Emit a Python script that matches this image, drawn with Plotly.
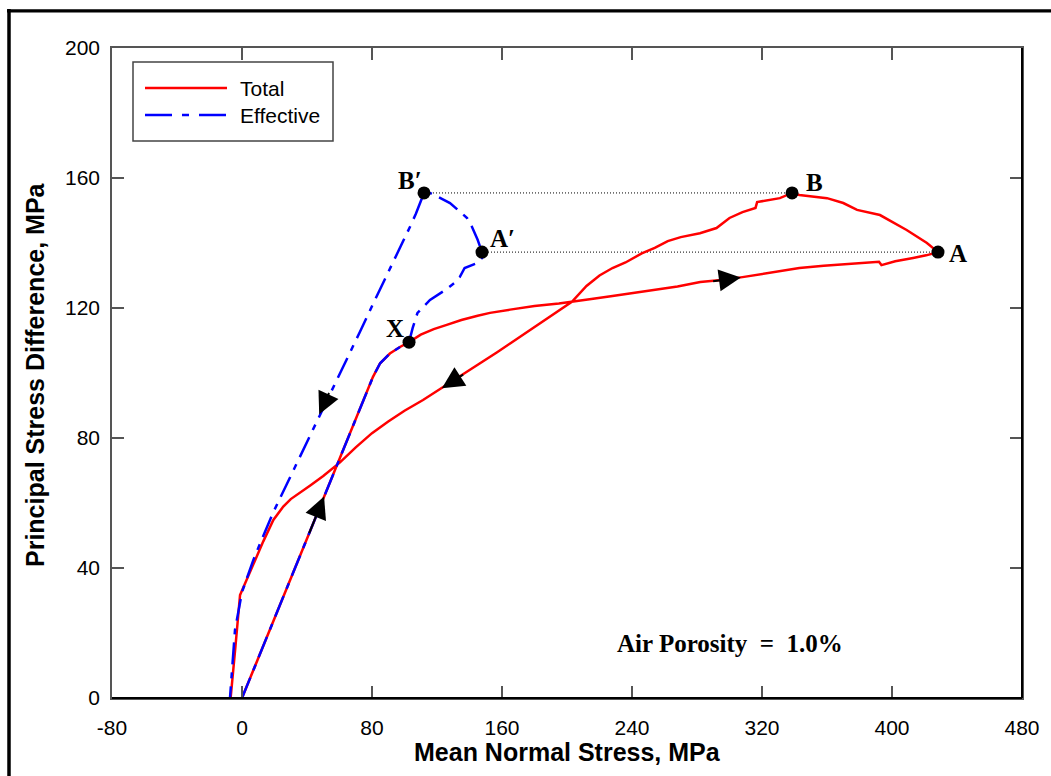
import plotly.graph_objects as go

# Total stress path: mean normal stress p (MPa) vs principal stress difference q (MPa)
total_p = [0.0, 80.6, 85.0, 91.0, 97.2, 102.8,
           110.0, 118.0, 126.0, 135.0, 145.0, 152.6, 165.0, 180.0, 195.0, 203.0,
           215.0, 228.0, 240.0, 255.0, 268.0, 282.0, 295.0, 308.0, 325.0, 343.0,
           358.0, 374.0, 392.0, 393.5, 402.0, 413.0, 421.0, 428.3,
           421.5, 409.0, 392.6, 378.5, 370.0, 360.0, 350.0, 343.0, 338.5,
           331.0, 317.0, 316.0, 308.0, 300.0, 292.0, 281.8, 270.0, 262.0, 254.0,
           246.0, 236.0, 228.0, 220.0, 212.0, 203.0, 190.0, 177.0, 165.0, 157.0,
           145.0, 134.0, 123.0, 111.4, 100.0, 90.0, 80.0, 70.0, 60.3, 50.0,
           42.0, 35.7, 30.0, 25.4, 19.3, 13.1, 9.0, 4.0, -1.2, -4.0, -7.0]
total_q = [0.0, 98.8, 103.0, 106.0, 108.0, 109.5,
           111.8, 113.5, 114.8, 116.3, 117.6, 118.5, 119.5, 120.6, 121.4, 121.9,
           122.8, 123.7, 124.6, 125.6, 126.6, 128.0, 128.6, 129.5, 130.8, 132.3,
           133.0, 133.5, 134.2, 133.2, 134.4, 135.4, 136.2, 137.2,
           140.0, 144.0, 148.6, 150.2, 152.3, 153.8, 154.5, 154.8, 155.4,
           153.8, 152.6, 150.8, 149.5, 147.7, 144.6, 143.0, 141.8, 140.6, 138.5,
           136.8, 134.0, 132.3, 130.0, 126.8, 121.9, 117.6, 113.2, 109.1, 106.4,
           102.5, 98.8, 95.3, 91.7, 88.4, 85.1, 81.5, 77.1, 72.5, 68.3,
           65.4, 63.3, 61.2, 58.9, 54.8, 48.2, 43.5, 37.8, 31.7, 16.0, 0.0]

# Effective stress path
eff_p = [0.0, 80.6, 85.0, 91.0, 97.2, 102.8,
         105.0, 108.0, 115.7, 125.0, 131.0, 134.0, 137.0, 144.6, 148.3, 147.7,
         145.0, 141.5, 138.5, 133.0, 128.0, 120.6, 115.7, 112.0,
         110.8, 107.0, 103.4, 96.0, 90.0, 80.6, 72.6, 60.3, 50.0, 41.8, 29.5, 19.0,
         12.0, 7.0, 0.0, -4.3, -7.4]
eff_q = [0.0, 98.8, 103.0, 106.0, 108.0, 109.5,
         113.8, 118.5, 122.5, 125.5, 127.8, 129.5, 132.3, 133.8, 135.7, 137.2,
         141.0, 145.0, 147.7, 150.2, 152.3, 154.2, 155.4, 155.4,
         153.8, 149.0, 145.0, 137.4, 131.0, 121.2, 112.7, 99.9, 89.1, 80.3, 68.0, 56.9,
         48.6, 42.5, 32.6, 21.0, 0.0]

# Labelled states on the paths
point_names = ["A", "B", "A′", "B′", "X"]
point_p = [428.3, 338.5, 147.7, 112.0, 102.8]
point_q = [137.2, 155.4, 137.2, 155.4, 109.5]

# Direction arrows along the paths: (tail p, tail q, tip p, tip q)
arrow_tail_p = [41.0, 54.0, 289.0, 137.0]
arrow_tail_q = [50.3, 94.3, 128.2, 99.8]
arrow_tip_p = [50.5, 47.5, 307.0, 123.0]
arrow_tip_q = [62.0, 87.3, 129.4, 95.3]

x_ticks = [-80, 0, 80, 160, 240, 320, 400, 480]
y_ticks = [0, 40, 80, 120, 160, 200]

legend_names = ["Total", "Effective"]
annotation_text = "Air Porosity\u00a0 =\u00a0 1.0%"

RED = "#ff0000"
BLUE = "#0000ff"
EFF_DASH = "22px,8px,6px,8px"
SANS = "Liberation Sans, Arial, sans-serif"
SERIF = "Liberation Serif, Times New Roman, serif"

fig = go.Figure()

# Horizontal dotted guides joining B'-B and A'-A
idx = {n: i for i, n in enumerate(point_names)}
for a, b in (("B′", "B"), ("A′", "A")):
    fig.add_trace(go.Scatter(
        x=[point_p[idx[a]], point_p[idx[b]]],
        y=[point_q[idx[a]], point_q[idx[b]]],
        mode="lines", line=dict(color="black", width=1, dash="1px,2px"),
        showlegend=False, hoverinfo="skip"))

fig.add_trace(go.Scatter(x=total_p, y=total_q, mode="lines", name=legend_names[0],
                         line=dict(color=RED, width=2.5), showlegend=False))
fig.add_trace(go.Scatter(x=eff_p, y=eff_q, mode="lines", name=legend_names[1],
                         line=dict(color=BLUE, width=2.5, dash=EFF_DASH),
                         showlegend=False))

fig.add_trace(go.Scatter(x=point_p, y=point_q, mode="markers",
                         marker=dict(color="black", size=13),
                         showlegend=False, hoverinfo="skip"))

annotations = []

# Point labels, offset in pixels from each marker
label_shift = {"A": (20, -1), "B": (22, 10), "A′": (20, 14), "B′": (-14, 12), "X": (-14, 14)}
for n, p, q in zip(point_names, point_p, point_q):
    dx, dy = label_shift[n]
    annotations.append(dict(x=p, y=q, xref="x", yref="y", text=n, showarrow=False,
                            xshift=dx, yshift=dy, xanchor="center", yanchor="middle",
                            font=dict(family=SERIF, size=25, color="black", weight="bold")))

for tp, tq, hp, hq in zip(arrow_tail_p, arrow_tail_q, arrow_tip_p, arrow_tip_q):
    annotations.append(dict(x=hp, y=hq, ax=tp, ay=tq, xref="x", yref="y",
                            axref="x", ayref="y", text="", showarrow=True,
                            arrowhead=2, arrowsize=2.2, arrowwidth=2,
                            arrowcolor="black", standoff=0, startstandoff=0))

annotations.append(dict(x=(730 - 112) / 910, y=(698 - 643) / 650, xref="paper", yref="paper",
                        text=annotation_text, showarrow=False, xanchor="center",
                        yanchor="middle",
                        font=dict(family=SERIF, size=25, color="black", weight="bold")))

# Axis titles
annotations.append(dict(x=0.5, y=(698 - 752) / 650, xref="paper", yref="paper",
                        text="Mean Normal Stress, MPa", showarrow=False,
                        xanchor="center", yanchor="middle",
                        font=dict(family=SANS, size=25, color="black", weight="bold")))
annotations.append(dict(x=(35 - 112) / 910, y=(698 - 375) / 650, xref="paper", yref="paper",
                        text="Principal Stress Difference, MPa", showarrow=False,
                        textangle=-90, xanchor="center", yanchor="middle",
                        font=dict(family=SANS, size=25, color="black", weight="bold")))

# Legend drawn by hand: framed box with sample lines
def px_x(px):
    return (px - 112) / 910

def px_y(py):
    return (698 - py) / 650

shapes = [
    dict(type="rect", xref="paper", yref="paper", x0=px_x(133), x1=px_x(333),
         y0=px_y(141), y1=px_y(62), line=dict(color="#444", width=1.5),
         fillcolor="white", layer="above"),
    dict(type="line", xref="paper", yref="paper", x0=px_x(145), x1=px_x(227),
         y0=px_y(88), y1=px_y(88), line=dict(color=RED, width=2.5), layer="above"),
    dict(type="line", xref="paper", yref="paper", x0=px_x(145), x1=px_x(227),
         y0=px_y(115), y1=px_y(115), line=dict(color=BLUE, width=2.5, dash="27px,10px,7px,10px"),
         layer="above"),
    # plot frame: bottom and right edges drawn darker
    dict(type="line", xref="paper", yref="paper", x0=0, x1=1, y0=0, y1=0,
         line=dict(color="black", width=2), layer="above"),
    dict(type="line", xref="paper", yref="paper", x0=1, x1=1, y0=0, y1=1,
         line=dict(color="black", width=2), layer="above"),
    # outer page frame
    dict(type="line", xref="paper", yref="paper", x0=px_x(9), x1=px_x(9),
         y0=px_y(9), y1=px_y(800), line=dict(color="black", width=3.5)),
    dict(type="line", xref="paper", yref="paper", x0=px_x(7), x1=px_x(1060),
         y0=px_y(10.8), y1=px_y(10.8), line=dict(color="black", width=3.2)),
]
for name, py in zip(legend_names, (89, 115)):
    annotations.append(dict(x=px_x(238), y=px_y(py), xref="paper", yref="paper",
                            text=name, showarrow=False, xanchor="left", yanchor="middle",
                            font=dict(family=SANS, size=21, color="black")))

axis_common = dict(showgrid=False, zeroline=False, showline=True, mirror="ticks",
                   linecolor="#555", linewidth=1.5, ticks="inside", ticklen=12,
                   tickwidth=1.5, tickcolor="#555",
                   tickfont=dict(family=SANS, size=21, color="black"))

fig.update_layout(
    width=1051, height=776,
    margin=dict(l=112, r=29, t=48, b=78),
    paper_bgcolor="white", plot_bgcolor="white",
    xaxis=dict(range=[-80, 480], tickvals=x_ticks, ticktext=[str(v) for v in x_ticks],
               ticklabelstandoff=10, **axis_common),
    yaxis=dict(range=[0, 200], tickvals=y_ticks, ticktext=[str(v) for v in y_ticks],
               ticklabelstandoff=6, **axis_common),
    annotations=annotations, shapes=shapes, showlegend=False,
)

fig.write_html("out.html")
